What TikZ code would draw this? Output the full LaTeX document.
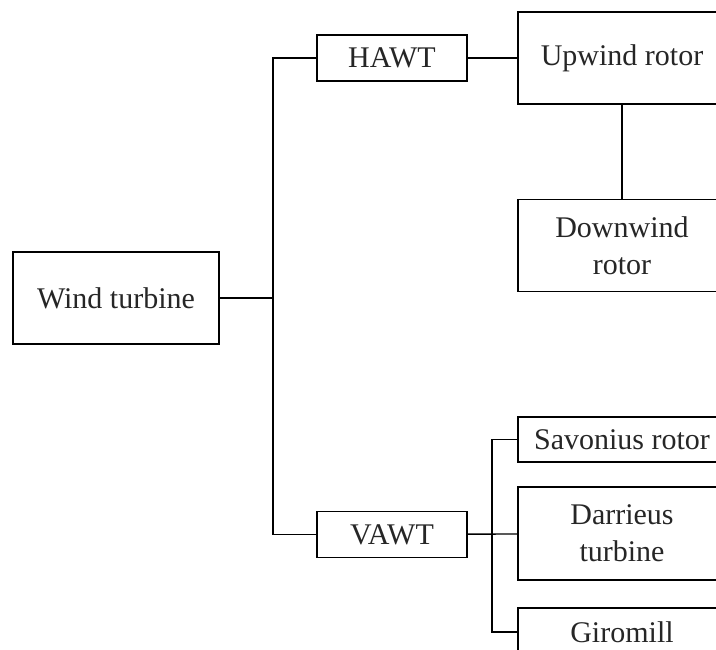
\documentclass[tikz,border=0pt]{standalone}
\usepackage{fontspec}
\setmainfont{Liberation Serif}
\usetikzlibrary{positioning}
\begin{document}
\begin{tikzpicture}[
    x=1pt, y=-1pt,
    font=\fontsize{30}{37}\selectfont,
    box/.style = {draw, line width=1.4pt, inner sep=0pt, align=center, minimum width=150pt, text=black!85},
    big/.style = {box, minimum width=208pt, minimum height=92pt},
    small/.style = {box, minimum height=46pt},
    link/.style = {line width=1.4pt}
]
    \useasboundingbox (0,0) rectangle (716,650);
    \clip (0,0) rectangle (716,650);

    % --- racine et deux familles ---
    \node[box, minimum width=206pt, minimum height=92pt] (wt) at (116,298) {Wind turbine};
    \node[small] (hawt) at (392,58) {HAWT};
    \node[small] (vawt) at (392,534.5) {VAWT};
    \coordinate (jroot) at (273,298);

    \draw[link] (wt) -- (jroot);
    \draw[link] (jroot) |- (hawt);
    \draw[link] (jroot) |- (vawt);

    % --- axe horizontal ---
    \node[big] (up) at (622,58) {Upwind rotor};
    \node[big] (down) at (622,245.5) {Downwind\\rotor};

    \draw[link] (hawt) -- (up);
    \draw[link] (up) -- (down);

    % --- axe vertical ---
    \node[big, minimum height=45pt] (sav) at (622,439.5) {Savonius rotor};
    \node[big, minimum height=93pt] (dar) at (622,533.5) {Darrieus\\turbine};
    \node[big, minimum height=48pt] (gir) at (622,632) {Giromill};
    \coordinate (jvawt) at (492,534.5);

    \draw[link] (vawt) -- (dar);
    \draw[link] (jvawt) |- (sav);
    \draw[link] (jvawt) |- (gir);

\end{tikzpicture}
\end{document}
